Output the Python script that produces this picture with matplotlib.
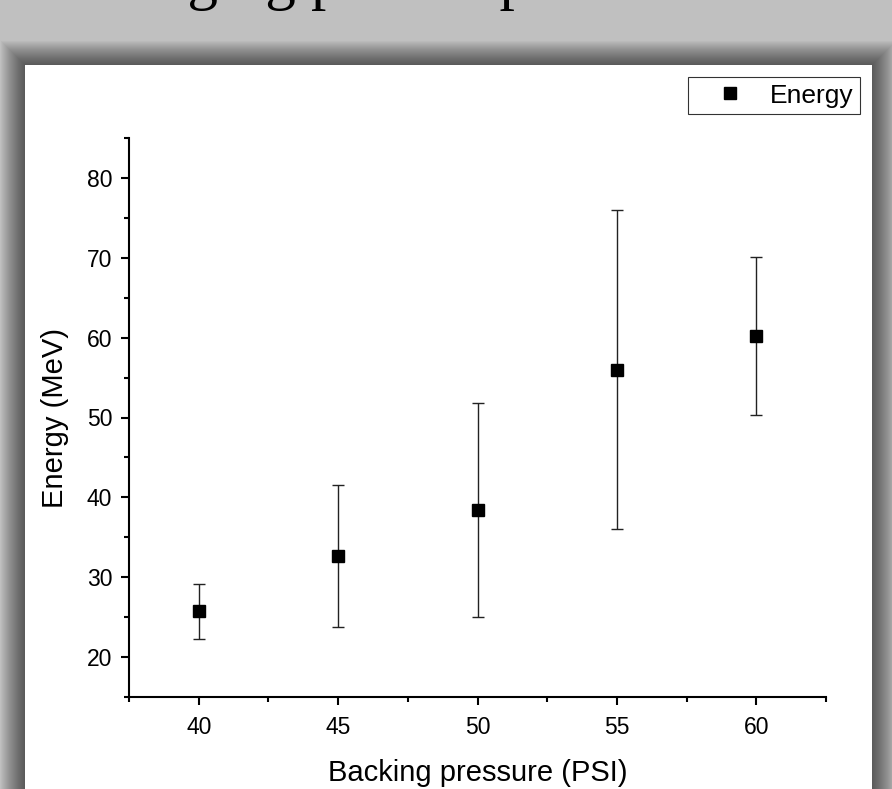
import numpy as np
import matplotlib.pyplot as plt
from matplotlib.patches import Rectangle
from matplotlib.ticker import MultipleLocator

plt.rcParams['font.family'] = ['Liberation Sans', 'DejaVu Sans']

# data
pressure = [40, 45, 50, 55, 60]
energy = [25.8, 32.7, 38.4, 56.0, 60.2]
err_low = [3.5, 8.9, 13.4, 20.0, 9.9]
err_high = [3.3, 8.8, 13.4, 20.0, 9.9]

W, H = 892, 789
fig = plt.figure(figsize=(W / 100, H / 100), dpi=100, facecolor='#c0c0c0')


def fx(px):
    return px / W


def fy(py):
    return 1 - py / H


# slide title, cut off at the top of the screenshot
fig.text(fx(72), fy(-2), "changing plasma parameters", family='Liberation Serif',
         fontsize=44, ha='left', va='baseline', color='black', zorder=-5)

# white panel with a soft drop shadow
px0, py0, px1, py1 = 25, 65, 872, 800
for i in range(24, 0, -1):
    fig.add_artist(Rectangle((fx(px0 - i), fy(py1 + i)), fx(px1 - px0 + 2 * i),
                             (py1 - py0 + 2 * i) / H, transform=fig.transFigure,
                             facecolor='black', edgecolor='none', alpha=0.028, zorder=-10))
fig.add_artist(Rectangle((fx(px0), fy(py1)), fx(px1 - px0), (py1 - py0) / H,
                         transform=fig.transFigure, facecolor='white',
                         edgecolor='none', zorder=-9))

ax = fig.add_axes([fx(129), fy(697), fx(826 - 129), (697 - 138) / H])
ax.set_facecolor('none')
ax.set_zorder(5)

ax.errorbar(pressure, energy, yerr=[err_low, err_high], fmt='none',
            ecolor='#222222', elinewidth=1.0, capsize=4.5, capthick=1.0)
ax.plot(pressure, energy, 's', color='black', markersize=8.8, label='Energy')

ax.set_xlim(37.5, 62.5)
ax.set_ylim(15, 85)
ax.xaxis.set_major_locator(MultipleLocator(5))
ax.xaxis.set_minor_locator(MultipleLocator(2.5))
ax.yaxis.set_minor_locator(MultipleLocator(5))
ax.set_yticks([20, 30, 40, 50, 60, 70, 80])

for side in ['top', 'right']:
    ax.spines[side].set_visible(False)
for side in ['left', 'bottom']:
    ax.spines[side].set_linewidth(1.5)

ax.tick_params(which='major', direction='out', length=6, width=1.5, labelsize=16.5)
ax.tick_params(axis='x', which='major', pad=8)
ax.tick_params(axis='y', which='major', pad=6)
ax.tick_params(which='minor', direction='out', length=3.5, width=1.5)

ax.set_xlabel("Backing pressure (PSI)", fontsize=21, labelpad=14)
ax.set_ylabel("Energy (MeV)", fontsize=21, labelpad=13)

leg = fig.legend(loc='upper right', bbox_to_anchor=(fx(860), fy(77)), fontsize=19,
                 frameon=True, fancybox=False, edgecolor='black', borderpad=0.25,
                 handletextpad=0.15, handlelength=2.7, borderaxespad=0)
leg.get_frame().set_linewidth(0.8)
leg.set_zorder(6)

fig.savefig('out.png', dpi=100, facecolor=fig.get_facecolor())
